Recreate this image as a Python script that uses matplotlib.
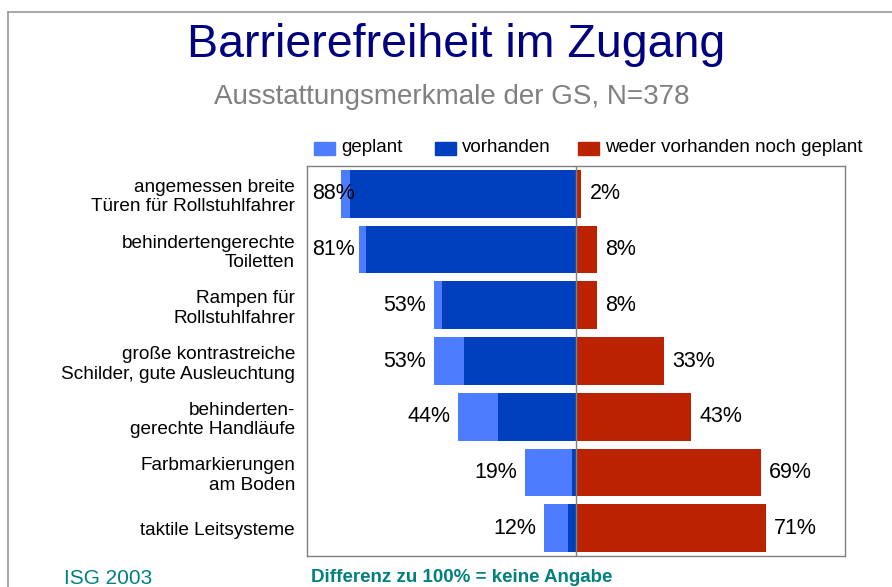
import matplotlib.pyplot as plt
from matplotlib.patches import Rectangle
from matplotlib.lines import Line2D
import numpy as np

plt.rcParams['font.family'] = ['Liberation Sans', 'DejaVu Sans']

# data (top row first)
categories = [
    "angemessen breite\nTüren für Rollstuhlfahrer",
    "behindertengerechte\nToiletten",
    "Rampen für\nRollstuhlfahrer",
    "große kontrastreiche\nSchilder, gute Ausleuchtung",
    "behinderten-\ngerechte Handläufe",
    "Farbmarkierungen\nam Boden",
    "taktile Leitsysteme",
]
geplant = [3.5, 2.4, 3, 11, 15, 17.5, 9]
vorhanden = [84.5, 78.6, 50, 42, 29, 1.5, 3]
weder = [2, 8, 8, 33, 43, 69, 71]
totals_left = [88, 81, 53, 53, 44, 19, 12]

c_gep = "#4D7CFF"
c_vor = "#0040BF"
c_wed = "#BB2200"

fig = plt.figure(figsize=(8.92, 5.87), dpi=100)
ax = fig.add_axes([0.3442, 0.0528, 0.6031, 0.6644])

y = np.arange(len(categories))
vor = np.array(vorhanden)
gep = np.array(geplant)

ax.barh(y, -vor, height=0.857, color=c_vor, zorder=2)
ax.barh(y, -gep, left=-vor, height=0.857, color=c_gep, zorder=2)
ax.barh(y, weder, height=0.857, color=c_wed, zorder=2)
ax.axvline(0, color="#808080", lw=1, zorder=3)

xmin, xmax = -100.6, 100.6
ax.set_xlim(xmin, xmax)
ax.set_ylim(len(categories) - 0.5, -0.5)

# value labels
for i in range(len(categories)):
    start = -(vor[i] + gep[i])
    if totals_left[i] >= 80:
        ax.text(xmin + 1.8, y[i], f"{totals_left[i]}%", ha="left", va="center",
                fontsize=15.5, zorder=4)
    else:
        ax.text(start - 3, y[i], f"{totals_left[i]}%", ha="right", va="center",
                fontsize=15.5, zorder=4)
    ax.text(weder[i] + 3, y[i], f"{weder[i]}%", ha="left", va="center",
            fontsize=15.5, zorder=4)

ax.set_xticks([])
ax.set_yticks(y)
ax.set_yticklabels(categories, fontsize=13.7, ha="right", linespacing=1.2)
ax.tick_params(axis="y", length=0, pad=8.6)
for s in ax.spines.values():
    s.set_color("#808080")
    s.set_linewidth(1)

# titles
fig.text(0.511, 0.923, "Barrierefreiheit im Zugang", ha="center", va="center",
         fontsize=33.5, color="#000080")
fig.text(0.507, 0.835, "Ausstattungsmerkmale der GS, N=378", ha="center",
         va="center", fontsize=20, color="#808080")

# legend
W, H = 892.0, 587.0
leg = [("geplant", c_gep, 314, 341), ("vorhanden", c_vor, 435, 462),
       ("weder vorhanden noch geplant", c_wed, 578, 605)]
for lab, col, x0, xt in leg:
    fig.add_artist(Rectangle((x0 / W, 1 - 155 / H), 21 / W, 13 / H,
                             transform=fig.transFigure, color=col))
    fig.text(xt / W, 1 - 148 / H, lab, ha="left", va="center", fontsize=13.5)

# footer
fig.text(64 / W, 1 - 578 / H, "ISG 2003", ha="left", va="center",
         fontsize=15, color="#008080")
fig.text(311 / W, 1 - 578 / H, "Differenz zu 100% = keine Angabe", ha="left",
         va="center", fontsize=13.5, color="#008080", fontweight="bold")

# frame lines of the slide
fig.add_artist(Line2D([8 / W, 1], [1 - 12 / H, 1 - 12 / H],
                      transform=fig.transFigure, color="#999999", lw=1.2))
fig.add_artist(Line2D([8 / W, 8 / W], [0, 1 - 12 / H],
                      transform=fig.transFigure, color="#999999", lw=1.2))

fig.savefig("out.png", dpi=100)
